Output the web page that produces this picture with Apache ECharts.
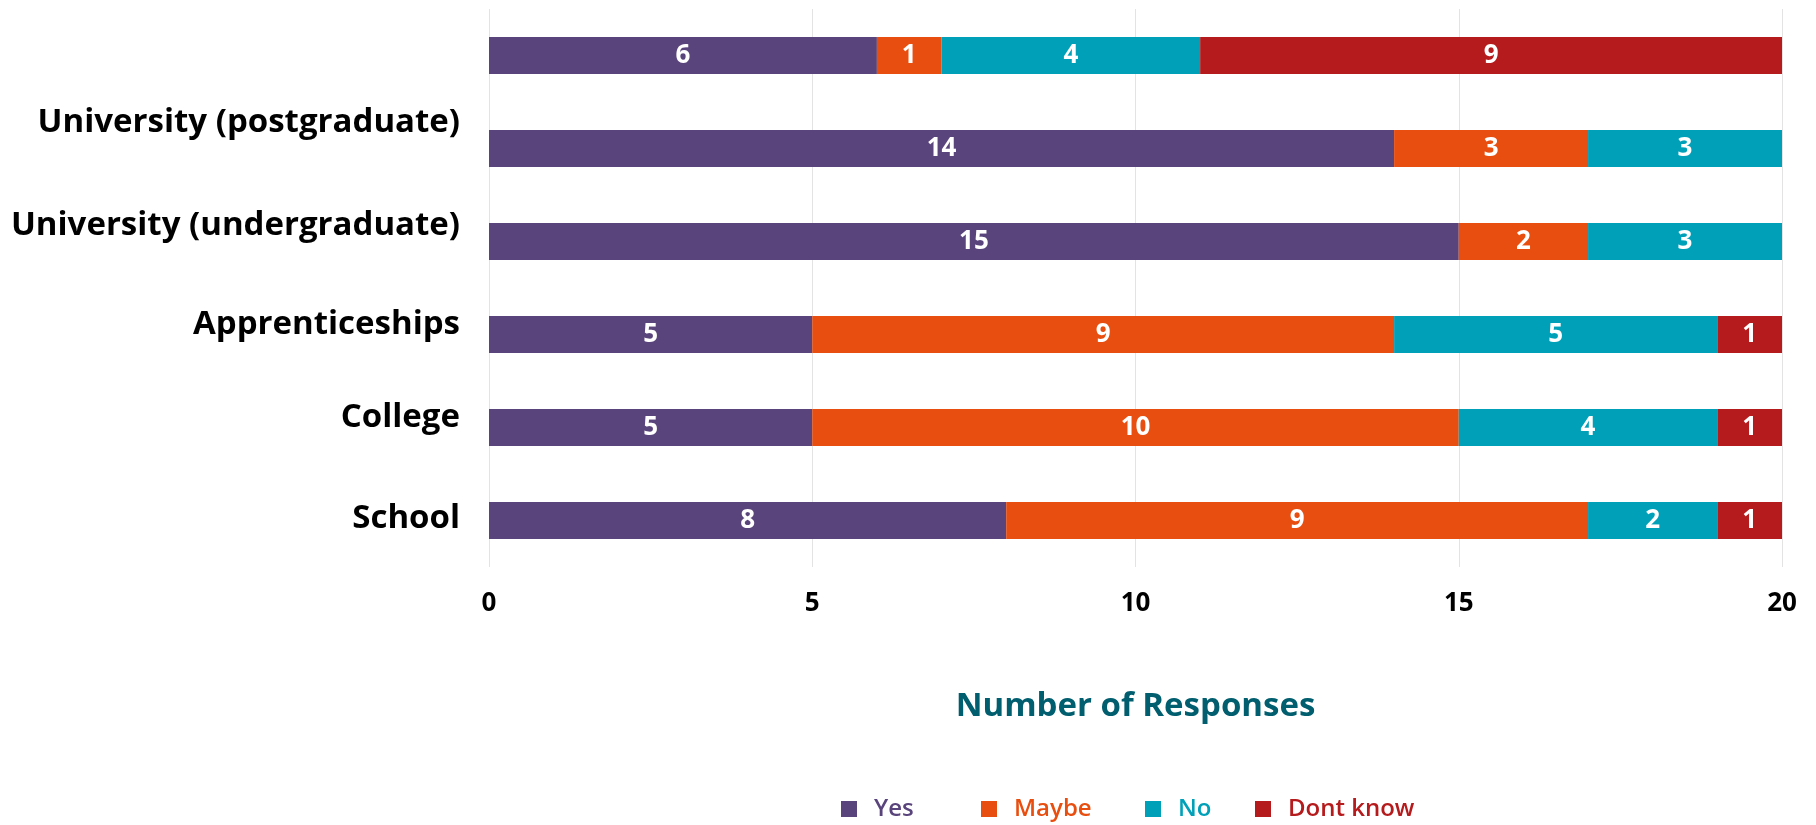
<!DOCTYPE html>
<html>
<head>
<meta charset="utf-8">
<script src="https://cdn.jsdelivr.net/npm/echarts@6/dist/echarts.min.js"></script>
<style>
html,body{margin:0;padding:0;background:#fff;}
#chart{width:1816px;height:825px;}
</style>
</head>
<body>
<div id="chart"></div>
<script>
// Categories bottom-to-top (ECharts category axis order)
const categories = ['School', 'College', 'Apprenticeships', 'University (undergraduate)', 'University (postgraduate)', ''];
const seriesNames = ['Yes', 'Maybe', 'No', 'Dont know'];
const yesValues = [8, 5, 5, 15, 14, 6];
const maybeValues = [9, 10, 9, 2, 3, 1];
const noValues = [2, 4, 5, 3, 3, 4];
const dontKnowValues = [1, 1, 1, 0, 0, 9];
const xTicks = [0, 5, 10, 15, 20];

// styling (not data)
const labelLift = [4, 20, 20, 32, 52, 2];
const colors = ['#5a447c', '#e84e0f', '#00a0b8', '#b51a1c'];
const legendLeft = [841, 981, 1145, 1255];

const font = 'Open Sans';
const allValues = [yesValues, maybeValues, noValues, dontKnowValues];

const rich = { t: { color: '#000', fontSize: 33, fontWeight: 'bold', fontFamily: font, lineHeight: 40 } };
labelLift.forEach((h, i) => { rich['s' + i] = { fontSize: 1, lineHeight: h }; });

const option = {
  animation: false,
  grid: { left: 489, right: 34, top: 9, bottom: 258, containLabel: false },
  xAxis: {
    type: 'value',
    min: xTicks[0],
    max: xTicks[xTicks.length - 1],
    interval: xTicks[1] - xTicks[0],
    name: 'Number of Responses',
    nameLocation: 'middle',
    nameGap: 123,
    nameTextStyle: { color: '#005e6e', fontSize: 33, fontWeight: 'bold', fontFamily: font },
    axisLine: { show: false },
    axisTick: { show: false },
    splitLine: { show: true, lineStyle: { color: '#e3e3e3', width: 1 } },
    axisLabel: { color: '#000', fontSize: 26, fontWeight: 'bold', fontFamily: font, margin: 24 }
  },
  yAxis: {
    type: 'category',
    data: categories,
    axisLine: { show: false },
    axisTick: { show: false },
    axisLabel: {
      margin: 29,
      formatter: (v, i) => v ? '{t|' + v + '}\n{s' + i + '| }' : '',
      rich: rich
    }
  },
  legend: seriesNames.map((n, i) => ({
    left: legendLeft[i],
    top: 797,
    padding: 0,
    itemWidth: 16,
    itemHeight: 16,
    icon: 'rect',
    data: [n],
    textStyle: { color: colors[i], fontSize: 24, fontWeight: 600, fontFamily: font, padding: [0, 0, 0, 12] }
  })),
  series: seriesNames.map((n, i) => ({
    name: n,
    type: 'bar',
    stack: 'total',
    barWidth: 37,
    itemStyle: { color: colors[i] },
    label: {
      show: true,
      position: 'inside',
      color: '#fff',
      fontSize: 26,
      fontWeight: 'bold',
      fontFamily: font,
      formatter: p => (p.value ? p.value : '')
    },
    data: allValues[i]
  }))
};

const chart = echarts.init(document.getElementById('chart'), null, { renderer: 'canvas' });
chart.setOption(option);
</script>
</body>
</html>
